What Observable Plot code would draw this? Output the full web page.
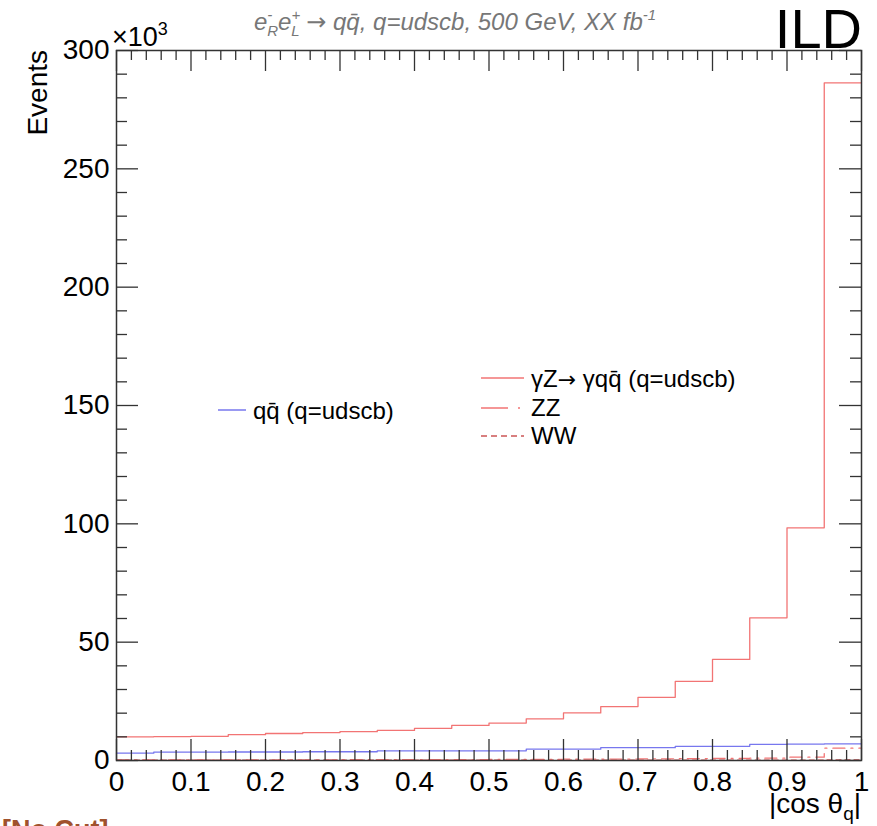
<!DOCTYPE html>
<html><head><meta charset="utf-8">
<script src="https://cdn.jsdelivr.net/npm/d3@7"></script>
<script src="https://cdn.jsdelivr.net/npm/@observablehq/plot@0.6"></script>
<style>body{margin:0;background:#fff;overflow:hidden} svg{display:block}</style>
</head><body><div id="chart"></div><script>
// |cos theta_q| bin lower edges (20 bins of 0.05)
const binEdges = [0,0.05,0.1,0.15,0.2,0.25,0.3,0.35,0.4,0.45,0.5,0.55,0.6,0.65,0.7,0.75,0.8,0.85,0.9,0.95];
const binEnd = 1;
// Events (x10^3)
const gammaZ = [10.0,10.1,10.2,10.9,11.4,11.8,12.2,12.7,13.6,14.8,15.8,17.6,20.1,22.8,26.7,33.4,42.7,60.3,98.3,286.3];
const qqbar  = [3.1,3.5,3.5,3.6,3.6,3.7,3.7,4.1,4.1,4.1,4.1,4.8,4.8,5.4,5.4,6.0,6.0,6.8,6.9,7.0];
const zz     = [0.3,0.3,0.3,0.3,0.3,0.3,0.4,0.4,0.4,0.4,0.5,0.5,0.6,0.6,0.7,0.8,0.9,1.0,1.4,5.2];
const ww     = [0.1,0.1,0.1,0.1,0.1,0.1,0.1,0.1,0.1,0.1,0.1,0.1,0.1,0.1,0.1,0.1,0.1,0.2,0.2,0.3];
const xMajorTicks = [0,0.1,0.2,0.3,0.4,0.5,0.6,0.7,0.8,0.9,1];
const yMajorTicks = [0,50,100,150,200,250,300];

const W = 877, H = 826, mL = 116, mR = 16, mT = 50, mB = 66;
const plotW = W - mL - mR, plotH = H - mT - mB;

const xMinor = d3.range(0, 1.0001, 0.02).filter(v => Math.abs(v*10 - Math.round(v*10)) > 1e-6);
const yMinor = d3.range(0, 300.001, 10).filter(v => v % 50 !== 0);

function steps(vals) {
  const rows = binEdges.map((x, i) => ({x, y: vals[i]}));
  rows.push({x: binEnd, y: vals[vals.length - 1]});
  return rows;
}

const RED = "#f27474", BLUE = "#7777ee", AX = "#333";
const FONT = "'Liberation Sans', Arial, Helvetica, sans-serif";
const QBAR = "q\u0304";

const plot = Plot.plot({
  width: W, height: H,
  marginLeft: mL, marginRight: mR, marginTop: mT, marginBottom: mB,
  style: {fontFamily: FONT, background: "white", color: "black"},
  x: {domain: [0, 1]},
  y: {domain: [0, 300]},
  marks: [
    Plot.line(steps(ww), {x: "x", y: "y", curve: "step-after", stroke: "#c55", strokeWidth: 1.3, strokeDasharray: "5,4"}),
    Plot.line(steps(zz), {x: "x", y: "y", curve: "step-after", stroke: RED, strokeWidth: 1.3, strokeDasharray: "12,6,2,6"}),
    Plot.line(steps(qqbar), {x: "x", y: "y", curve: "step-after", stroke: BLUE, strokeWidth: 1.3}),
    Plot.line(steps(gammaZ), {x: "x", y: "y", curve: "step-after", stroke: RED, strokeWidth: 1.3}),
    // inward ticks (ROOT style)
    Plot.ruleX(xMajorTicks, {x: d => d, insetTop: plotH - 21, stroke: AX, strokeWidth: 1.3}),
    Plot.ruleX(xMinor, {x: d => d, insetTop: plotH - 10, stroke: AX, strokeWidth: 1.3}),
    Plot.ruleX(xMajorTicks, {x: d => d, insetBottom: plotH - 21, stroke: AX, strokeWidth: 1.3}),
    Plot.ruleX(xMinor, {x: d => d, insetBottom: plotH - 10, stroke: AX, strokeWidth: 1.3}),
    Plot.ruleY(yMajorTicks, {y: d => d, insetRight: plotW - 22, stroke: AX, strokeWidth: 1.3}),
    Plot.ruleY(yMinor, {y: d => d, insetRight: plotW - 11, stroke: AX, strokeWidth: 1.3}),
    Plot.ruleY(yMajorTicks, {y: d => d, insetLeft: plotW - 22, stroke: AX, strokeWidth: 1.3}),
    Plot.ruleY(yMinor, {y: d => d, insetLeft: plotW - 11, stroke: AX, strokeWidth: 1.3}),
    Plot.frame({stroke: AX, strokeWidth: 1.5}),
    Plot.axisX({ticks: xMajorTicks, anchor: "bottom", tickSize: 0, tickPadding: 11, fontSize: 28, label: null,
      tickFormat: d => (d === 0 || d === 1) ? String(d) : d.toFixed(1)}),
    Plot.axisY({ticks: yMajorTicks, anchor: "left", tickSize: 0, tickPadding: 7, fontSize: 28, label: null,
      tickFormat: d => String(d)})
  ]
});

const svg = d3.select(plot);
const g = svg.append("g").attr("font-family", FONT).attr("text-anchor", "start");
const ARROW_FONT = "'DejaVu Sans', sans-serif";

// Title
const t = g.append("text").attr("x", 455).attr("y", 30).attr("text-anchor", "middle")
  .attr("font-size", 24).attr("font-style", "italic").attr("fill", "#777");
t.append("tspan").text("e");
t.append("tspan").attr("dy", -10).attr("font-size", 15).text("-");
t.append("tspan").attr("dx", -5).attr("dy", 16).attr("font-size", 15).text("R");
t.append("tspan").attr("dy", -6).text("e");
t.append("tspan").attr("dy", -10).attr("font-size", 15).text("+");
t.append("tspan").attr("dx", -9).attr("dy", 16).attr("font-size", 15).text("L");
t.append("tspan").attr("dy", -6).text(" ");
t.append("tspan").attr("font-family", ARROW_FONT).attr("font-style", "normal").text("\u2192");
t.append("tspan").text(" q" + QBAR + ", q=udscb, 500 GeV, XX fb");
t.append("tspan").attr("dy", -10).attr("font-size", 15).text("-1");

// ILD
g.append("text").attr("x", 862).attr("y", 48).attr("text-anchor", "end")
  .attr("font-size", 56).attr("fill", "black").text("ILD");

// x10^3
const e3 = g.append("text").attr("x", 112).attr("y", 46).attr("font-size", 27).attr("fill", "black");
e3.append("tspan").text("\u00d710");
e3.append("tspan").attr("dy", -11).attr("font-size", 18).text("3");

// Axis titles
g.append("text").attr("transform", "translate(47,50) rotate(-90)").attr("text-anchor", "end")
  .attr("font-size", 28).attr("fill", "#000").text("Events");
const xt = g.append("text").attr("x", 861).attr("y", 813).attr("text-anchor", "end")
  .attr("font-size", 28).attr("fill", "black");
xt.append("tspan").text("|cos \u03b8");
xt.append("tspan").attr("dy", 7).attr("font-size", 19).text("q");
xt.append("tspan").attr("dy", -7).text("|");

// Legends
function legLine(x1, x2, y, color, dash) {
  g.append("line").attr("x1", x1).attr("x2", x2).attr("y1", y).attr("y2", y)
    .attr("stroke", color).attr("stroke-width", 1.5).attr("stroke-dasharray", dash || null);
}
legLine(218, 246, 410, BLUE);
g.append("text").attr("x", 253).attr("y", 419).attr("font-size", 24).attr("fill", "black")
  .text("q" + QBAR + " (q=udscb)");

legLine(481, 524, 378, RED);
const l2 = g.append("text").attr("x", 531).attr("y", 387).attr("font-size", 24).attr("fill", "black");
l2.append("tspan").text("\u03b3Z");
l2.append("tspan").attr("font-family", ARROW_FONT).attr("font-size", 22).text("\u2192");
l2.append("tspan").text(" \u03b3q" + QBAR + " (q=udscb)");

legLine(481, 524, 408, RED, "27,10,2,20");
g.append("text").attr("x", 531).attr("y", 416).attr("font-size", 24).attr("fill", "black").text("ZZ");
legLine(481, 524, 436, "#c55", "6,4");
g.append("text").attr("x", 531).attr("y", 444).attr("font-size", 24).attr("fill", "black").text("WW");

// cut label
g.append("text").attr("x", 2).attr("y", 839).attr("font-size", 27).attr("font-weight", "bold")
  .attr("fill", "#a0522d").text("[No Cut]");

document.getElementById("chart").appendChild(plot);
</script></body></html>
